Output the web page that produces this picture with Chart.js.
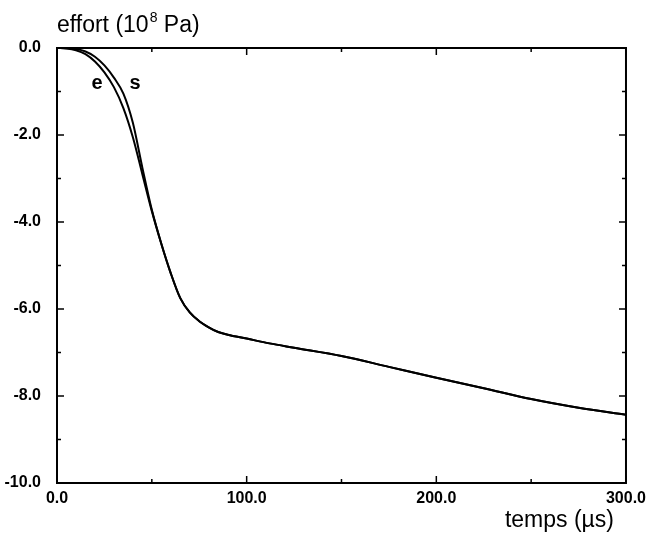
<!DOCTYPE html>
<html>
<head>
<meta charset="utf-8">
<script src="https://cdn.jsdelivr.net/npm/chart.js@4.4.0/dist/chart.umd.min.js"></script>
<style>
  html, body { margin: 0; padding: 0; background: #fff; }
  #wrap { width: 652px; height: 534px; position: relative; }
</style>
</head>
<body>
<div id="wrap"><canvas id="effortChart"></canvas></div>
<script>
// time in microseconds
var tempsE = [0, 5, 10, 15, 20, 25, 30, 35, 40, 45, 50, 55, 60, 65, 70, 75, 80, 85, 90, 100, 112, 125, 150, 175, 200, 225, 250, 275, 300];
var effortE = [0, -0.01, -0.05, -0.14, -0.31, -0.56, -0.9, -1.38, -2.05, -2.9, -3.75, -4.5, -5.18, -5.75, -6.08, -6.28, -6.42, -6.53, -6.59, -6.68, -6.79, -6.89, -7.08, -7.33, -7.58, -7.82, -8.07, -8.27, -8.43];

var tempsS = [0, 5, 10, 15, 20, 25, 30, 35, 40, 45, 50, 55, 60, 65, 70, 75, 80, 85, 90, 100, 112, 125, 150, 175, 200, 225, 250, 275, 300];
var effortS = [0, -0.005, -0.025, -0.08, -0.2, -0.4, -0.68, -1.05, -1.72, -2.75, -3.72, -4.5, -5.18, -5.75, -6.08, -6.28, -6.42, -6.53, -6.59, -6.68, -6.79, -6.89, -7.08, -7.33, -7.58, -7.82, -8.07, -8.27, -8.43];

var xMajor = [0, 100, 200, 300];
var xMinor = [50, 150, 250];
var yMajor = [0, -2, -4, -6, -8, -10];
var yMinor = [-1, -3, -5, -7, -9];

function toPoints(xs, ys) {
    return xs.map(function(v, i) { return { x: v, y: ys[i] }; });
}

// frame, inward ticks and the text labels
var framePlugin = {
    id: 'frame',
    afterDraw: function(chart) {
        var ctx = chart.ctx;
        var a = chart.chartArea;
        var x = chart.scales.x, y = chart.scales.y;
        ctx.save();
        ctx.strokeStyle = '#000';
        ctx.lineWidth = 2;
        ctx.strokeRect(a.left, a.top, a.right - a.left, a.bottom - a.top);

        ctx.lineWidth = 1.5;
        ctx.beginPath();
        yMajor.concat(yMinor).forEach(function(v) {
            var len = yMajor.indexOf(v) >= 0 ? 7 : 4;
            var py = y.getPixelForValue(v);
            ctx.moveTo(a.left, py); ctx.lineTo(a.left + len, py);
            ctx.moveTo(a.right, py); ctx.lineTo(a.right - len, py);
        });
        xMajor.concat(xMinor).forEach(function(v) {
            var len = xMajor.indexOf(v) >= 0 ? 7 : 4;
            var px = x.getPixelForValue(v);
            ctx.moveTo(px, a.bottom); ctx.lineTo(px, a.bottom - len);
            ctx.moveTo(px, a.top); ctx.lineTo(px, a.top + len);
        });
        ctx.stroke();

        ctx.fillStyle = '#000';
        ctx.textBaseline = 'alphabetic';
        ctx.textAlign = 'left';
        // y axis title with superscript
        ctx.font = '23px "Liberation Sans", Arial, sans-serif';
        var t1 = 'effort (10';
        ctx.fillText(t1, 57, 32);
        var w1 = ctx.measureText(t1).width;
        ctx.font = '14px "Liberation Sans", Arial, sans-serif';
        ctx.fillText('8', 57 + w1 + 1, 22);
        var w2 = ctx.measureText('8').width;
        ctx.font = '23px "Liberation Sans", Arial, sans-serif';
        ctx.fillText(' Pa)', 57 + w1 + w2 + 1, 32);

        // x axis title
        ctx.textAlign = 'right';
        ctx.fillText('temps (\u00b5s)', 614, 527);

        // curve labels
        ctx.textAlign = 'center';
        ctx.textBaseline = 'middle';
        ctx.font = 'bold 20px "Liberation Sans", Arial, sans-serif';
        ctx.fillText('e', 97, 83);
        ctx.fillText('s', 135, 83);
        ctx.restore();
    }
};

var ctx = document.getElementById('effortChart').getContext('2d');
var effortChart = new Chart(ctx, {
    type: 'scatter',
    data: {
        datasets: [
            {
                label: 'e',
                data: toPoints(tempsE, effortE),
                showLine: true,
                borderColor: '#000',
                borderWidth: 2,
                pointRadius: 0,
                cubicInterpolationMode: 'monotone'
            },
            {
                label: 's',
                data: toPoints(tempsS, effortS),
                showLine: true,
                borderColor: '#000',
                borderWidth: 2,
                pointRadius: 0,
                cubicInterpolationMode: 'monotone'
            }
        ]
    },
    options: {
        responsive: true,
        maintainAspectRatio: false,
        animation: false,
        layout: { padding: { top: 48, right: 22, left: 0, bottom: 0 } },
        plugins: {
            legend: { display: false },
            tooltip: { enabled: false }
        },
        scales: {
            x: {
                type: 'linear',
                min: 0,
                max: 300,
                grid: { display: false, drawTicks: false },
                border: { display: false },
                afterFit: function(scale) { scale.height = 51; },
                ticks: {
                    stepSize: 100,
                    padding: 6,
                    maxRotation: 0,
                    color: '#000',
                    font: { family: '"Liberation Sans", Arial, sans-serif', size: 16, weight: 'bold' },
                    callback: function(value) { return value.toFixed(1); }
                }
            },
            y: {
                min: -10,
                max: 0,
                grid: { display: false, drawTicks: false },
                border: { display: false },
                afterFit: function(scale) { scale.width = 57; },
                ticks: {
                    stepSize: 2,
                    padding: 16,
                    color: '#000',
                    font: { family: '"Liberation Sans", Arial, sans-serif', size: 16, weight: 'bold' },
                    callback: function(value) { return value.toFixed(1); }
                }
            }
        }
    },
    plugins: [framePlugin]
});
</script>
</body>
</html>
